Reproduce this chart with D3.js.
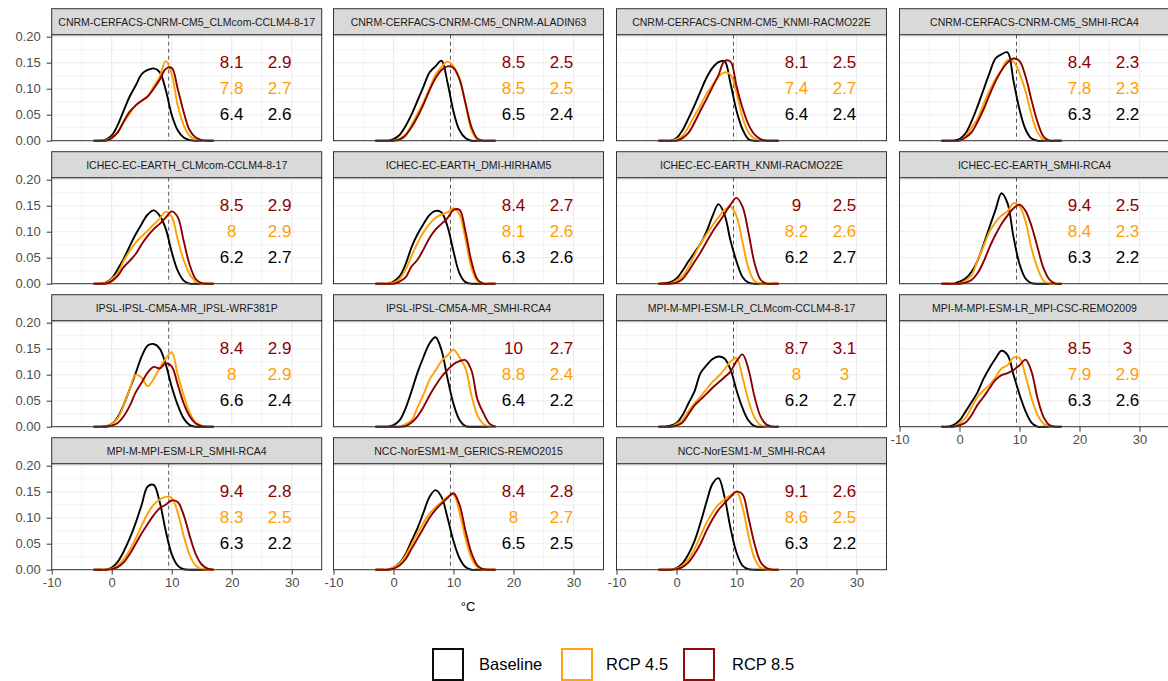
<!DOCTYPE html>
<html>
<head>
<meta charset="utf-8">
<script src="https://cdn.jsdelivr.net/npm/d3@7"></script>
<style>
  body { margin: 0; background: #ffffff; }
  svg { display: block; font-family: "Liberation Sans", Arial, Helvetica, sans-serif; }
</style>
</head>
<body>
<svg id="chart" width="1168" height="681"></svg>
<script>
// Regional climate model chains (GCM_RCM), one facet each
const models = [
  "CNRM-CERFACS-CNRM-CM5_CLMcom-CCLM4-8-17",
  "CNRM-CERFACS-CNRM-CM5_CNRM-ALADIN63",
  "CNRM-CERFACS-CNRM-CM5_KNMI-RACMO22E",
  "CNRM-CERFACS-CNRM-CM5_SMHI-RCA4",
  "ICHEC-EC-EARTH_CLMcom-CCLM4-8-17",
  "ICHEC-EC-EARTH_DMI-HIRHAM5",
  "ICHEC-EC-EARTH_KNMI-RACMO22E",
  "ICHEC-EC-EARTH_SMHI-RCA4",
  "IPSL-IPSL-CM5A-MR_IPSL-WRF381P",
  "IPSL-IPSL-CM5A-MR_SMHI-RCA4",
  "MPI-M-MPI-ESM-LR_CLMcom-CCLM4-8-17",
  "MPI-M-MPI-ESM-LR_MPI-CSC-REMO2009",
  "MPI-M-MPI-ESM-LR_SMHI-RCA4",
  "NCC-NorESM1-M_GERICS-REMO2015",
  "NCC-NorESM1-M_SMHI-RCA4"
];

// Temperature (°C) at which the densities are evaluated
const tempGrid = [-3, -2, -1, 0, 1, 2, 3, 4, 5, 6, 7, 8, 9, 10, 11, 12, 13, 14, 15, 16, 17];

// Density of annual temperature, one row per model chain
const baseline = [
  [0,0,.002,.010,.030,.058,.085,.106,.128,.136,.139,.132,.098,.050,.020,.006,.001,0,0,0,0],
  [0,0,0,.003,.011,.028,.050,.077,.104,.131,.143,.154,.112,.056,.020,.005,0,0,0,0,0],
  [0,0,0,.005,.020,.043,.068,.095,.121,.140,.151,.153,.110,.058,.022,.003,0,0,0,0,0],
  [0,0,0,.003,.014,.037,.066,.098,.130,.158,.166,.170,.115,.060,.022,.004,0,0,0,0,0],
  [0,0,.002,.010,.028,.048,.072,.095,.115,.133,.141,.131,.106,.061,.025,.006,0,0,0,0,0],
  [0,0,0,.004,.014,.037,.070,.095,.115,.132,.140,.137,.110,.062,.020,.003,0,0,0,0,0],
  [0,.001,.003,.010,.025,.043,.060,.077,.100,.130,.153,.133,.083,.043,.013,.002,0,0,0,0,0],
  [0,0,0,.004,.010,.023,.044,.075,.109,.142,.174,.155,.090,.038,.010,.001,0,0,0,0,0],
  [0,0,.001,.005,.018,.042,.072,.103,.135,.156,.159,.150,.120,.077,.042,.016,.003,0,0,0,0],
  [0,0,0,.003,.012,.035,.068,.104,.134,.160,.172,.147,.093,.044,.013,.001,0,0,0,0,0],
  [0,0,.002,.007,.022,.045,.068,.103,.118,.130,.135,.131,.110,.070,.036,.012,.001,0,0,0,0],
  [0,0,.003,.012,.029,.047,.066,.092,.113,.131,.146,.138,.100,.062,.030,.008,0,0,0,0,0],
  [0,0,0,.004,.015,.035,.060,.090,.125,.160,.163,.130,.075,.030,.008,.001,0,0,0,0,0],
  [0,0,0,.004,.013,.030,.055,.080,.110,.140,.153,.140,.100,.055,.022,.005,0,0,0,0,0],
  [0,0,0,.003,.012,.030,.055,.090,.130,.165,.176,.140,.080,.033,.008,.001,0,0,0,0,0]
];
const rcp45 = [
  [0,0,.001,.006,.016,.036,.052,.068,.077,.086,.104,.123,.153,.128,.068,.030,.009,.002,0,0,0],
  [0,0,0,0,.004,.012,.030,.052,.074,.100,.127,.142,.152,.143,.120,.072,.020,.002,0,0,0],
  [0,0,0,.003,.009,.027,.048,.068,.090,.107,.123,.131,.127,.092,.045,.016,.004,0,0,0,0],
  [0,0,0,0,.008,.025,.042,.070,.096,.118,.136,.155,.152,.130,.095,.050,.016,.002,0,0,0],
  [0,0,.001,.009,.020,.044,.063,.079,.091,.102,.114,.125,.138,.129,.085,.045,.018,.004,0,0,0],
  [0,0,0,.002,.009,.027,.053,.078,.099,.115,.127,.133,.137,.145,.133,.085,.030,.005,0,0,0],
  [0,0,0,.006,.015,.032,.055,.077,.095,.112,.128,.142,.148,.130,.080,.030,.005,0,0,0,0],
  [0,0,0,0,.006,.016,.045,.072,.100,.118,.131,.139,.155,.149,.120,.068,.030,.006,0,0,0],
  [0,0,0,.005,.016,.041,.072,.100,.094,.078,.092,.113,.131,.143,.100,.060,.027,.008,.002,0,0],
  [0,0,0,0,0,.005,.012,.037,.062,.090,.108,.126,.137,.148,.133,.112,.060,.022,.005,0,0],
  [0,0,0,.005,.013,.030,.045,.058,.072,.086,.097,.110,.125,.132,.095,.050,.018,.003,0,0,0],
  [0,0,0,.007,.017,.037,.057,.070,.080,.095,.112,.118,.133,.132,.098,.055,.023,.006,0,0,0],
  [0,0,0,.002,.008,.020,.038,.060,.085,.108,.125,.135,.140,.138,.110,.065,.028,.008,.001,0,0],
  [0,0,0,.004,.012,.027,.048,.070,.090,.108,.120,.130,.140,.145,.110,.060,.022,.005,0,0,0],
  [0,0,0,.002,.008,.020,.040,.065,.090,.110,.125,.135,.143,.150,.120,.065,.022,.004,0,0,0]
];
const rcp85 = [
  [0,0,0,.005,.016,.037,.056,.068,.077,.085,.100,.117,.138,.140,.100,.055,.020,.006,.001,0,0],
  [0,0,0,0,.002,.010,.026,.046,.070,.097,.120,.136,.143,.140,.118,.072,.026,.004,0,0,0],
  [0,0,0,0,.005,.015,.035,.058,.080,.103,.126,.153,.152,.105,.063,.031,.012,.003,0,0,0],
  [0,0,0,0,.006,.016,.036,.060,.088,.114,.135,.150,.158,.153,.124,.078,.036,.008,0,0,0],
  [0,0,0,.005,.015,.032,.044,.057,.076,.092,.105,.115,.127,.139,.128,.082,.036,.009,.001,0,0],
  [0,0,0,0,.004,.012,.033,.046,.066,.088,.104,.115,.126,.142,.142,.100,.042,.008,0,0,0],
  [0,0,0,.002,.009,.024,.042,.060,.080,.100,.117,.134,.152,.165,.148,.098,.040,.008,0,0,0],
  [0,0,0,0,.002,.007,.020,.042,.070,.094,.115,.131,.145,.152,.140,.111,.070,.030,.008,0,0],
  [0,0,0,.002,.007,.020,.040,.066,.085,.104,.115,.112,.122,.116,.081,.045,.020,.006,.001,0,0],
  [0,0,0,0,0,.001,.008,.020,.038,.060,.079,.096,.109,.120,.126,.128,.108,.052,.026,.006,0],
  [0,0,0,.002,.008,.024,.041,.052,.063,.075,.085,.095,.106,.126,.139,.110,.058,.020,.004,0,0],
  [0,0,0,.003,.008,.022,.042,.057,.074,.090,.099,.103,.109,.118,.129,.106,.055,.019,.003,0,0],
  [0,0,0,.001,.005,.014,.030,.050,.070,.088,.105,.118,.125,.133,.130,.105,.065,.030,.010,.002,0],
  [0,0,0,.002,.008,.020,.040,.060,.080,.100,.115,.127,.138,.147,.125,.075,.032,.008,.001,0,0],
  [0,0,0,.001,.005,.014,.030,.050,.075,.097,.115,.128,.140,.150,.145,.100,.050,.015,.003,0,0]
];

// Mean and standard deviation (°C) printed in each facet
const meanBase = [6.4, 6.5, 6.4, 6.3, 6.2, 6.3, 6.2, 6.3, 6.6, 6.4, 6.2, 6.3, 6.3, 6.5, 6.3];
const sdBase   = [2.6, 2.4, 2.4, 2.2, 2.7, 2.6, 2.7, 2.2, 2.4, 2.2, 2.7, 2.6, 2.2, 2.5, 2.2];
const mean45   = [7.8, 8.5, 7.4, 7.8, 8, 8.1, 8.2, 8.4, 8, 8.8, 8, 7.9, 8.3, 8, 8.6];
const sd45     = [2.7, 2.5, 2.7, 2.3, 2.9, 2.6, 2.6, 2.3, 2.9, 2.4, 3, 2.9, 2.5, 2.7, 2.5];
const mean85   = [8.1, 8.5, 8.1, 8.4, 8.5, 8.4, 9, 9.4, 8.4, 10, 8.7, 8.5, 9.4, 8.4, 9.1];
const sd85     = [2.9, 2.5, 2.5, 2.3, 2.9, 2.7, 2.5, 2.5, 2.9, 2.7, 3.1, 3, 2.8, 2.8, 2.6];

const scenarios = ["Baseline", "RCP 4.5", "RCP 8.5"];
const xTicks = [-10, 0, 10, 20, 30];
const xMinor = [-5, 5, 15, 25];
const yTicks = [0, 0.05, 0.10, 0.15, 0.20];
const yMinor = [0.025, 0.075, 0.125, 0.175];
const refTemp = 9.5;               // dashed reference temperature
const labelX = [20, 28];           // columns for mean / sd
const labelY = [0.05, 0.10, 0.15]; // rows: baseline, rcp45, rcp85

// ---- styling / layout ----
const colors = ["#000000", "#FFA000", "#8B0000"];
const nCol = 4;
const panelW = 270, panelH = 106, stripH = 26;
const colLeft = [51.7, 333.5, 616.5, 899.5];
const rowZero = [140.7, 283.7, 426.7, 569.7];
const tickFont = 13;

const svg = d3.select("#chart");

const x = d3.scaleLinear().domain([-10, 35]).range([0, panelW]);
const y = d3.scaleLinear().domain([0, 0.2038]).range([panelH, 0]);

const line = d3.line()
  .x((d, i) => x(tempGrid[i]))
  .y(d => y(d))
  .curve(d3.curveCatmullRom.alpha(0.5));

const series = [baseline, rcp45, rcp85];
const means = [meanBase, mean45, mean85];
const sds = [sdBase, sd45, sd85];

models.forEach((name, k) => {
  const col = k % nCol, row = Math.floor(k / nCol);
  const left = colLeft[col];
  const top = rowZero[row] - panelH;
  const g = svg.append("g").attr("transform", `translate(${left},${top})`);

  // panel background
  g.append("rect").attr("width", panelW).attr("height", panelH).attr("fill", "#ffffff");

  // grid
  g.selectAll(".gxm").data(xMinor).join("line")
    .attr("x1", d => x(d)).attr("x2", d => x(d)).attr("y1", 0).attr("y2", panelH)
    .attr("stroke", "#ebebeb").attr("stroke-width", 0.6);
  g.selectAll(".gym").data(yMinor).join("line")
    .attr("x1", 0).attr("x2", panelW).attr("y1", d => y(d)).attr("y2", d => y(d))
    .attr("stroke", "#ebebeb").attr("stroke-width", 0.6);
  g.selectAll(".gx").data(xTicks).join("line")
    .attr("x1", d => x(d)).attr("x2", d => x(d)).attr("y1", 0).attr("y2", panelH)
    .attr("stroke", "#ebebeb").attr("stroke-width", 1.1);
  g.selectAll(".gy").data(yTicks).join("line")
    .attr("x1", 0).attr("x2", panelW).attr("y1", d => y(d)).attr("y2", d => y(d))
    .attr("stroke", "#ebebeb").attr("stroke-width", 1.1);

  // reference temperature
  g.append("line")
    .attr("x1", x(refTemp)).attr("x2", x(refTemp)).attr("y1", 0).attr("y2", panelH)
    .attr("stroke", "#555555").attr("stroke-width", 1).attr("stroke-dasharray", "4,3");

  // density curves
  series.forEach((s, j) => {
    g.append("path").datum(s[k])
      .attr("d", line)
      .attr("fill", "none")
      .attr("stroke", colors[j])
      .attr("stroke-width", 1.9)
      .attr("stroke-linejoin", "round");
  });

  // mean / sd labels
  [0, 1, 2].forEach(j => {
    [means[j][k], sds[j][k]].forEach((v, c) => {
      g.append("text")
        .attr("x", x(labelX[c])).attr("y", y(labelY[j]))
        .attr("text-anchor", "middle").attr("dominant-baseline", "central")
        .attr("font-size", 17).attr("fill", colors[j])
        .text(String(v));
    });
  });

  // panel border
  g.append("rect").attr("width", panelW).attr("height", panelH)
    .attr("fill", "none").attr("stroke", "#333333").attr("stroke-width", 1);

  // strip
  g.append("rect").attr("x", 0).attr("y", -stripH).attr("width", panelW).attr("height", stripH)
    .attr("fill", "#d9d9d9").attr("stroke", "#333333").attr("stroke-width", 1);
  g.append("text")
    .attr("x", panelW / 2).attr("y", -stripH / 2)
    .attr("text-anchor", "middle").attr("dominant-baseline", "central")
    .attr("font-size", 10.5).attr("fill", "#1a1a1a")
    .text(name);

  // y axis on the first column
  if (col === 0) {
    const ay = g.append("g")
      .call(d3.axisLeft(y).tickValues(yTicks).tickFormat(d3.format(".2f")).tickSize(5).tickPadding(6));
    ay.select(".domain").remove();
    ay.selectAll(".tick line").attr("stroke", "#333333");
    ay.selectAll(".tick text").attr("font-size", tickFont).attr("fill", "#4d4d4d")
      .attr("font-family", "Liberation Sans, Arial, sans-serif");
  }
  // x axis where no facet sits below
  const below = k + nCol;
  if (below >= models.length) {
    const ax = g.append("g").attr("transform", `translate(0,${panelH})`)
      .call(d3.axisBottom(x).tickValues(xTicks).tickFormat(d => String(d)).tickSize(5).tickPadding(3));
    ax.select(".domain").remove();
    ax.selectAll(".tick line").attr("stroke", "#333333");
    ax.selectAll(".tick text").attr("font-size", tickFont).attr("fill", "#4d4d4d")
      .attr("font-family", "Liberation Sans, Arial, sans-serif");
  }
});

// x axis title
svg.append("text")
  .attr("x", 468).attr("y", 606)
  .attr("text-anchor", "middle").attr("dominant-baseline", "central")
  .attr("font-size", 13).attr("fill", "#000000")
  .text("°C");

// legend
const legendKeys = [433, 562, 684];
const legendText = [479, 606, 732];
const legend = svg.append("g");
scenarios.forEach((s, j) => {
  legend.append("rect")
    .attr("x", legendKeys[j]).attr("y", 649).attr("width", 30).attr("height", 31)
    .attr("fill", "#ffffff").attr("stroke", colors[j]).attr("stroke-width", 1.9);
  legend.append("text")
    .attr("x", legendText[j]).attr("y", 664)
    .attr("dominant-baseline", "central")
    .attr("font-size", 16.5).attr("fill", "#000000")
    .text(s);
});
</script>
</body>
</html>
